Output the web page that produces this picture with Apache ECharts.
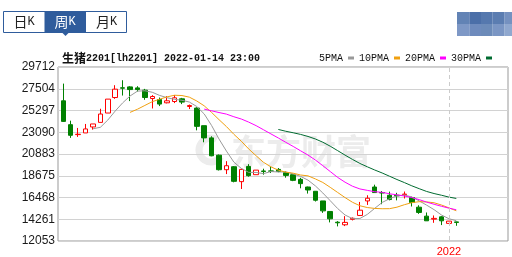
<!DOCTYPE html>
<html>
<head>
<meta charset="utf-8">
<script src="https://cdn.jsdelivr.net/npm/echarts@6/dist/echarts.min.js"></script>
<style>html,body{margin:0;padding:0;background:#fff}#c{width:512px;height:257px}</style>
</head>
<body>
<div id="c"></div>
<script>
// ---- data (weekly K, 生猪2201) ----
const categories = [
 '2021-01-08','2021-01-15','2021-01-22','2021-01-29','2021-02-05','2021-02-12','2021-02-19','2021-02-26',
 '2021-03-05','2021-03-12','2021-03-19','2021-03-26','2021-04-02','2021-04-09','2021-04-16','2021-04-23',
 '2021-04-30','2021-05-07','2021-05-14','2021-05-21','2021-05-28','2021-06-04','2021-06-11','2021-06-18',
 '2021-06-25','2021-07-02','2021-07-09','2021-07-16','2021-07-23','2021-07-30','2021-08-06','2021-08-13',
 '2021-08-20','2021-08-27','2021-09-03','2021-09-10','2021-09-17','2021-09-24','2021-10-01','2021-10-08',
 '2021-10-15','2021-10-22','2021-10-29','2021-11-05','2021-11-12','2021-11-19','2021-11-26','2021-12-03',
 '2021-12-10','2021-12-17','2021-12-24','2021-12-31','2022-01-07','2022-01-14',
 '','','','','',''
];
const openP  = [26261,23826,22810,22983,23592,24059,25013,26596,27590,27682,27580,27347,26495,26393,26058,26190,26464,25680,25520,23724,22476,20710,19228,19532,18010,19563,18721,19100,19100,19259,18924,18721,18244,17462,17026,16041,14966,13870,13605,14160,14559,16041,17462,16900,16620,16620,16680,16387,15402,14489,14180,14418,13748,13900];
const closeP = [24161,22740,22850,23389,23897,24912,26434,27449,27550,27408,27410,26596,26698,25926,26261,26566,26130,25780,23653,22476,20649,19228,19634,18041,19259,18619,19187,19050,19080,19055,18649,18142,17807,17157,16113,15027,14214,13810,13849,14270,15097,16315,16894,16850,16183,16560,16740,15879,14864,14012,14260,14012,13981,13850];
const lowP   = [24100,22476,22577,22983,23318,24059,25013,26464,26799,26231,27205,26363,25480,25724,26000,26028,25926,25420,23247,22029,20600,19150,18781,17940,17259,18518,18721,18721,18890,18970,18416,18060,17330,16792,15980,14823,13849,13443,13474,14050,14500,15635,16850,15706,16100,16100,16290,15473,14720,14000,13808,13575,13748,13504];
const highP  = [28017,24232,23491,23897,23897,25449,26434,27855,28362,27750,27753,27479,26840,26596,26738,26840,26560,25880,25600,23724,22638,20780,20101,19600,19330,19796,19187,19330,19532,19400,19060,18721,18400,17500,17026,16041,14966,13981,14489,14350,15940,16620,17700,17050,16990,16870,17000,16480,15600,14864,14559,14480,13981,13930];
const ma5  = ['-','-','-','-',23407,23558,24296,25216,26048,26751,27250,27283,27132,26808,26578,26409,26316,26133,25678,24921,23738,22357,21128,20006,19362,18956,18948,18831,19039,18998,19004,18795,18547,18162,17574,16849,16064,15264,14603,14234,14248,14668,15285,15885,16268,16560,16645,16442,16045,15611,15151,14605,14226,14023];
const ma10 = ['-','-','-','-','-','-','-','-','-',25079,25404,25790,26174,26428,26664,26830,26799,26633,26243,25750,25074,24337,23630,22842,22142,21347,20653,19980,19522,19180,18980,18872,18689,18601,18286,17927,17429,16905,16382,15904,15549,15366,15275,15244,15251,15404,15657,15864,15965,15939,15856,15625,15334,15034];
const ma20 = ['-','-','-','-','-','-','-','-','-','-','-','-','-','-','-','-','-','-','-',25414,25239,25063,24902,24635,24403,24088,23726,23306,22883,22465,22027,21604,21160,20721,20214,19637,19041,18443,17952,17542,17264,17119,16982,16922,16768,16665,16543,16385,16174,15922,15702,15496,15304,15139];
const ma30 = ['-','-','-','-','-','-','-','-','-','-','-','-','-','-','-','-','-','-','-','-','-','-','-','-','-','-','-','-','-',23336,23153,22999,22831,22623,22364,22034,21627,21173,20716,20278,19867,19525,19198,18895,18559,18226,17913,17583,17290,17008,16795,16621,16433,16293];
const yTicks = ['12053','14261','16468','18675','20883','23090','25297','27504','29712'];
const yMin = 12053, yMax = 29712;
const yInterval = (yMax - yMin) / (yTicks.length - 1);
const maNames = ['5PMA','10PMA','20PMA','30PMA'];
const maColors = ['#999999','#f0a010','#ff00ff','#006b30'];
const yearMark = categories.findIndex(d => d.startsWith('2022'));

const kData = openP.map((o, i) => [o, closeP[i], lowP[i], highP[i]]);
const maSeries = [ma5, ma10, ma20, ma30];

const chart = echarts.init(document.getElementById('c'), null, {renderer: 'canvas'});

const blurCols = [457, 469.3, 481, 492.7, 504.3];
const blurW = [12.3, 11.7, 11.7, 11.7, 8];
const blurColors = [['#6283b5','#4b6fa8','#5578ae','#5b7db1','#7591c0'],['#7e98c6','#6e8bbd','#6c8bb9','#7b96c4','#90a8cf']];
const blurRects = [];
blurColors.forEach((row, r) => row.forEach((c, k) => {
  blurRects.push({type:'rect', shape:{x: blurCols[k], y: 12 + r*12, width: blurW[k], height: 12}, style:{fill: c}});
}));

const tabBlue = '#2f5c9c';
const tabs = ['日','周','月'];
const tabX = [3.5, 44.5, 86];
const tabEls = [
  {type:'rect', shape:{x:44.5, y:11.5, width:41.5, height:21}, style:{fill: tabBlue}},
  {type:'rect', shape:{x:3.5, y:11.5, width:123, height:21}, style:{fill:'none', stroke: tabBlue, lineWidth:1}},
  {type:'polygon', shape:{points:[[61.5,32],[69.5,32],[65.5,36]]}, style:{fill: tabBlue}}
];
tabs.forEach((t, i) => {
  tabEls.push({type:'text', x: tabX[i] + 20.5, y: 22, style:{
    text: '{c|' + t + '}{k|K}', align:'center', verticalAlign:'middle',
    rich: {c:{fontFamily:'Noto Sans CJK SC', fontSize:14, fill: i===1 ? '#fff' : '#222'},
           k:{fontFamily:'Liberation Mono', fontSize:12, fill: i===1 ? '#fff' : '#222'}}
  }});
});

const option = {
  animation: false,
  title: {
    text: '{a|生猪}{b|2201[lh2201] 2022-01-14 23:00}',
    left: 57, top: 47,
    textStyle: { rich: {
      a: {fontFamily:'Noto Sans CJK SC', fontSize:12, color:'#111'},
      b: {fontFamily:'Liberation Mono', fontSize:10, color:'#111'}
    }}
  },
  legend: {
    data: maNames, right: 15, top: 48, align: 'right', icon: 'rect',
    itemWidth: 6, itemHeight: 3, itemGap: 5,
    textStyle: {fontFamily:'Liberation Mono', fontSize:10, color:'#111'}
  },
  graphic: [
    {type:'group', z: -1, children: [
      {type:'arc', shape:{cx:211, cy:150, r:12, startAngle: 0.6, endAngle: 5.2}, style:{stroke:'#ececec', lineWidth:7, fill:'none'}},
      {type:'text', x: 301, y: 152, style:{text:'东方财富', align:'center', verticalAlign:'middle', fontFamily:'Noto Sans CJK SC', fontWeight:'bold', fontSize:35, fill:'#ececec'}}
    ]},
    {type:'group', children: blurRects},
    {type:'group', children: tabEls}
  ],
  grid: [
    {left: 58, top: 67, width: 450, height: 174, show: true, borderColor: '#999', borderWidth: 1, backgroundColor: 'transparent'},
    {left: 59.6, top: 67, width: 444.9, height: 174, show: false}
  ],
  xAxis: [
    {type:'value', gridIndex:0, show:false, min:0, max:1},
    {type:'category', gridIndex:1, data: categories, boundaryGap: true,
     axisLine:{show:false}, axisTick:{show:false}, splitLine:{show:false},
     axisLabel:{show:true, margin:6, interval: 0, color:'#ff0000', fontFamily:'Liberation Sans', fontSize:11,
       formatter: (v, idx) => idx === yearMark ? v.slice(0,4) : ''}}
  ],
  yAxis: [
    {type:'value', gridIndex:0, min: yMin, max: yMax, interval: yInterval,
     axisLine:{show:false}, axisTick:{show:false},
     splitLine:{show:true, lineStyle:{color:'#d2d2d2', width:1}},
     axisLabel:{margin:3, color:'#1a1a1a', fontFamily:'Liberation Sans', fontSize:12,
       formatter: v => yTicks[Math.round((v - yMin) / yInterval)]}},
    {type:'value', gridIndex:1, min: yMin, max: yMax, show:false, splitLine:{show:false}}
  ],
  series: [
    {type:'candlestick', name:'K', xAxisIndex:1, yAxisIndex:1, data: kData, barWidth: 5,
     itemStyle:{color:'#ffffff', borderColor:'#ff0000', color0:'#008000', borderColor0:'#008000', borderWidth:1},
     markLine:{silent:true, symbol:'none', label:{show:false},
       lineStyle:{color:'#cccccc', type:[4,3], width:1},
       data:[{xAxis: categories[yearMark]}]}
    }
  ].concat(maSeries.map((d, i) => ({
    type:'line', name: maNames[i], xAxisIndex:1, yAxisIndex:1, data: d,
    showSymbol:false, symbol:'none', smooth:false, color: maColors[i],
    lineStyle:{width:1, color: maColors[i]}, itemStyle:{color: maColors[i]}, z: 3
  })))
};
chart.setOption(option);
</script>
</body>
</html>
